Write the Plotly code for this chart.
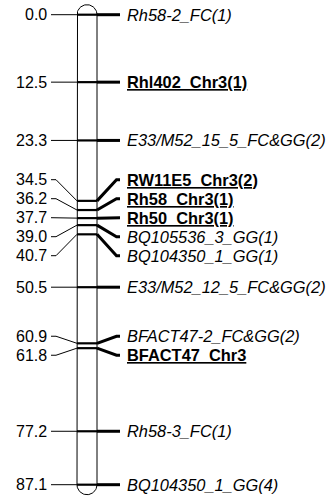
import numpy as np
import plotly.graph_objects as go

# Linkage group: marker positions (cM) and names
positions = [0.0, 12.5, 23.3, 34.5, 36.2, 37.7, 39.0, 40.7, 50.5, 60.9, 61.8, 77.2, 87.1]
markers = [
    "Rh58-2_FC(1)", "Rhl402_Chr3(1)", "E33/M52_15_5_FC&GG(2)", "RW11E5_Chr3(2)",
    "Rh58_Chr3(1)", "Rh50_Chr3(1)", "BQ105536_3_GG(1)", "BQ104350_1_GG(1)",
    "E33/M52_12_5_FC&GG(2)", "BFACT47-2_FC&GG(2)", "BFACT47_Chr3",
    "Rh58-3_FC(1)", "BQ104350_1_GG(4)",
]
# anchored (chromosome-specific) markers are shown bold + underlined
anchored = [False, True, False, True, True, True, False, False, False, False, True, False, False]

W, H = 333, 500
TOP_PX, PX_PER_CM = 14.7, 5.396
y_top = -TOP_PX / PX_PER_CM
y_bot = (H - TOP_PX) / PX_PER_CM

X_L, X_R = 77.0, 97.0          # chromosome body edges
CAP_R = 10.0
FONT = "Liberation Sans, Arial, sans-serif"
UNDERLINE = ("text-decoration:underline;text-decoration-skip-ink:none;"
             "text-decoration-thickness:2px")


def spread_labels(pos, gap):
    """Spread label positions so neighbouring labels are at least `gap` apart."""
    groups = [[p] for p in pos]
    changed = True
    while changed:
        changed = False
        out = []
        for g in groups:
            if out:
                prev = out[-1]
                prev_end = np.mean(prev) + (len(prev) - 1) * gap / 2
                start = np.mean(g) - (len(g) - 1) * gap / 2
                if start - prev_end < gap - 1e-9:
                    out[-1] = prev + g
                    changed = True
                    continue
            out.append(g)
        groups = out
    res = []
    for g in groups:
        c = np.mean(g)
        n = len(g)
        res += [c + (i - (n - 1) / 2) * gap for i in range(n)]
    return res


label_pos = spread_labels(positions, 19.0 / PX_PER_CM)

fig = go.Figure()

# chromosome outline with rounded ends
cx = (X_L + X_R) / 2
t_top = np.linspace(np.pi, 0, 40)
top_x = cx + CAP_R * np.cos(t_top)
top_y = positions[0] - CAP_R * np.sin(t_top) / PX_PER_CM
t_bot = np.linspace(0, np.pi, 40)
bot_x = cx + CAP_R * np.cos(t_bot)
bot_y = positions[-1] + CAP_R * np.sin(t_bot) / PX_PER_CM
ox = [X_L, X_L] + list(top_x) + [X_R, X_R] + list(bot_x)
oy = [positions[-1], positions[0]] + list(top_y) + [positions[0], positions[-1]] + list(bot_y)
fig.add_trace(go.Scatter(x=ox, y=oy, mode="lines", line=dict(color="black", width=1),
                         hoverinfo="skip", showlegend=False))

annotations = []
for p, lp, name, anc in zip(positions, label_pos, markers, anchored):
    # thin connector from position label to chromosome
    fig.add_trace(go.Scatter(x=[51, 56, X_L], y=[lp, lp, p], mode="lines",
                             line=dict(color="black", width=1),
                             hoverinfo="skip", showlegend=False))
    # marker bar across the chromosome
    fig.add_trace(go.Scatter(x=[X_L, X_R], y=[p, p], mode="lines",
                             line=dict(color="black", width=2.2),
                             hoverinfo="skip", showlegend=False))
    # thick connector to marker name
    fig.add_trace(go.Scatter(x=[X_R, 116.5, 120], y=[p, lp, lp], mode="lines",
                             line=dict(color="black", width=3),
                             hoverinfo="skip", showlegend=False))
    annotations.append(dict(x=49, y=lp, text=f"{p:.1f}", xanchor="right", yanchor="middle",
                            showarrow=False, font=dict(family=FONT, size=16, color="black")))
    txt = name.replace("&", "&amp;")
    if anc:
        txt = f'<b><span style="{UNDERLINE}">{txt}</span></b>'
    else:
        txt = f"<i>{txt}</i>"
    annotations.append(dict(x=125, y=lp, text=txt, xanchor="left", yanchor="middle",
                            showarrow=False, font=dict(family=FONT, size=16.4, color="black")))

fig.update_layout(
    width=W, height=H, margin=dict(l=0, r=0, t=0, b=0),
    paper_bgcolor="white", plot_bgcolor="white",
    xaxis=dict(range=[0, W], visible=False, fixedrange=True),
    yaxis=dict(range=[y_bot, y_top], visible=False, fixedrange=True),
    annotations=annotations, showlegend=False,
)

fig.write_html("out.html")
